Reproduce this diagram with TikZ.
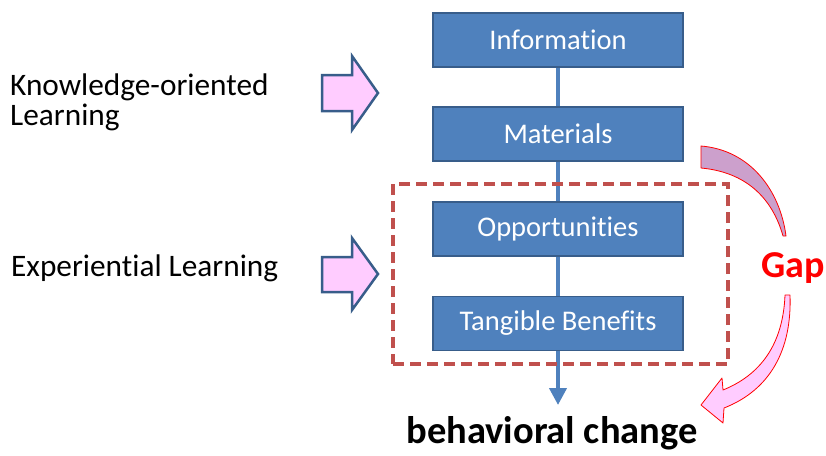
\documentclass[tikz,border=0pt]{standalone}
\usepackage{fontspec}
\setmainfont{Carlito}[Ligatures=NoCommon]
\usetikzlibrary{arrows.meta}
\definecolor{boxfill}{HTML}{4F81BD}
\definecolor{boxedge}{HTML}{385D8A}
\definecolor{dashred}{HTML}{C0504D}
\definecolor{pinkfill}{HTML}{FFCCFF}
\definecolor{mauvefill}{HTML}{CCA0CC}
\definecolor{gapred}{HTML}{FF0000}
\tikzset{
  stepbox/.style={draw=boxedge, fill=boxfill, line width=1.5pt, minimum width=250pt, minimum height=54pt,
    text=white, font=\fontsize{28.5}{30}\selectfont, inner sep=0pt},
  flow/.style={draw=boxfill, line width=4pt},
  blockarrow/.style={draw=boxedge, fill=pinkfill, line width=2.5pt, line join=miter},
  sidetext/.style={anchor=base west, font=\fontsize{31.3}{30}\selectfont, inner sep=0pt, align=left},
  gapframe/.style={draw=dashred, line width=3.5pt, dash pattern=on 11pt off 6pt, minimum width=335pt, minimum height=180pt, inner sep=0pt},
  curvearrow/.style={draw=gapred, line width=0.8pt, line join=round},
}
\begin{document}
\begin{tikzpicture}[x=1pt,y=-1pt]
\useasboundingbox (0,0) rectangle (826,455);
% flow line
\coordinate (end) at (558,405);
\draw[flow] (558,40) -- (558,134);
\node[stepbox] (info) at (558,40) {Information};
\node[stepbox] (mat) at (558,134) {Materials};
\node[stepbox] (opp) at (558,229) {Opportunities};
\node[stepbox] (tang) at (558,323.5) {Tangible Benefits};
\draw[flow] (info.south) -- (mat.north);
\draw[flow] (mat.south) -- (opp.north);
\draw[flow] (opp.south) -- (tang.north);
\draw[flow, -{Triangle[length=17pt, width=17pt]}] (tang.south) -- (end);
% dashed frame
\node[gapframe] (frame) at (560.5,274) {};
% side texts
\node[sidetext] (ko) at (10,125) {Knowledge-oriented\\Learning};
\node[sidetext] (el) at (11,276) {Experiential Learning};
% block arrows
\draw[blockarrow] (322,75) -- (352,75) -- (352,56) -- (378,93) -- (352,130) -- (352,111) -- (322,111) -- cycle;
\draw[blockarrow] (322,257) -- (352,257) -- (352,238) -- (378,274) -- (352,310) -- (352,292) -- (322,292) -- cycle;
% result text
\node[anchor=base, font=\bfseries\fontsize{38.5}{40}\selectfont, inner sep=0pt] (beh) at (552,443) {behavioral change};
% gap text
\node[anchor=base, font=\bfseries\fontsize{38}{40}\selectfont, text=gapred, inner sep=0pt] (gap) at (793,277) {Gap};
% upper curved band
\draw[curvearrow, fill=mauvefill] (701,146) .. controls (750,150) and (780,190) .. (786,236)
  -- (783,236) .. controls (772,197) and (745,172) .. (701,168) -- cycle;
% lower curved arrow
\draw[curvearrow, fill=pinkfill] (785,295) .. controls (783,345) and (760,375) .. (723,390)
  -- (722,378) -- (701,405) -- (723,423) -- (724,408)
  .. controls (770,390) and (792,350) .. (790,295) -- cycle;
\end{tikzpicture}
\end{document}
